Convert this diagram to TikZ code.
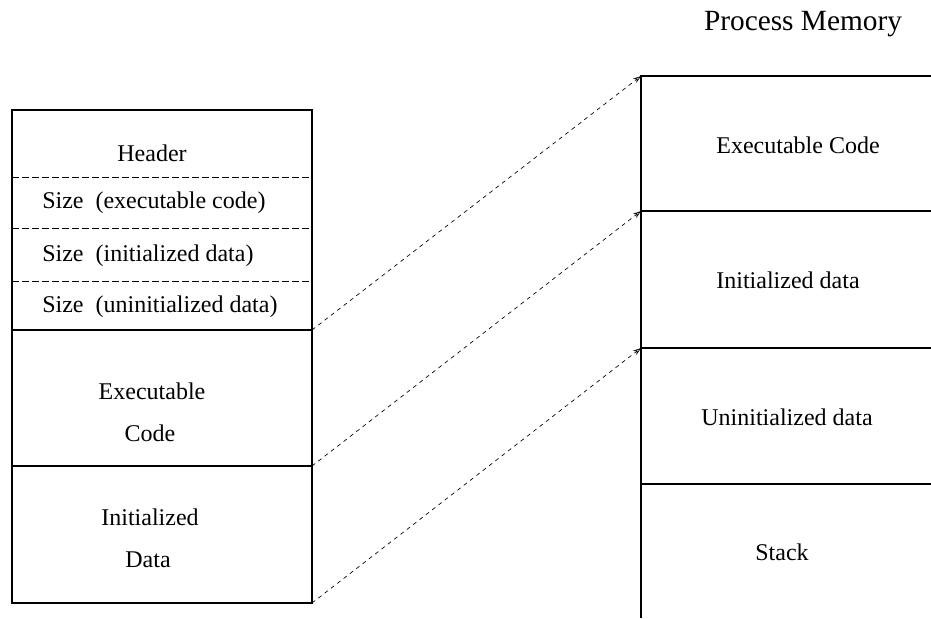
\documentclass[tikz,border=0pt]{standalone}
\usepackage{fontspec}
\setmainfont{Liberation Serif}
\usetikzlibrary{arrows.meta}

\begin{document}
\begin{tikzpicture}[x=0.75pt,y=-0.75pt,
		txt/.style={font=\fontsize{18}{21}\selectfont, inner sep=0pt},
		title/.style={font=\fontsize{22}{26}\selectfont, inner sep=0pt},
		frame/.style={line width=0.9pt},
		sep/.style={line width=0.6pt, dash pattern=on 5pt off 2.5pt},
		link/.style={-{Stealth[open,length=6pt,width=4pt]}, line width=0.5pt, dash pattern=on 3pt off 3pt}]
	\useasboundingbox (0,0) rectangle (931,618);

	% executable file
	\draw[frame] (12,110) rectangle (312,603);
	\draw[sep] (12,177) -- (312,177);
	\draw[sep] (12,228) -- (312,228);
	\draw[sep] (12,281) -- (312,281);
	\draw[frame] (12,330) -- (312,330);
	\draw[frame] (12,466) -- (312,466);

	\node[txt] (hdr) at(152,153) {Header};
	\node[txt,anchor=west] (szcode) at(42,203) {Size~~(executable code)};
	\node[txt,anchor=west] (szinit) at(42,256) {Size~~(initialized data)};
	\node[txt,anchor=west] (szuninit) at(42,307) {Size~~(uninitialized data)};
	\node[txt] (fcode1) at(152,391) {Executable};
	\node[txt] (fcode2) at(150,433) {Code};
	\node[txt] (fdata1) at(150,517) {Initialized};
	\node[txt] (fdata2) at(148,560) {Data};

	% process memory
	\node[title] (pm) at(803,24) {Process Memory};
	\draw[frame] (931,76) -- (641,76) -- (641,618);
	\draw[frame] (641,211) -- (931,211);
	\draw[frame] (641,348) -- (931,348);
	\draw[frame] (641,484) -- (931,484);

	\node[txt] (mcode) at(798,145) {Executable Code};
	\node[txt] (minit) at(788,280) {Initialized data};
	\node[txt] (muninit) at(787,417) {Uninitialized data};
	\node[txt] (mstack) at(782,552) {Stack};

	\coordinate (hdrend) at (312,330);
	\coordinate (codeend) at (312,466);
	\coordinate (dataend) at (312,603);
	\coordinate (codetop) at (641,76);
	\coordinate (inittop) at (641,211);
	\coordinate (uninittop) at (641,348);

	\draw[link] (hdrend) -- (codetop);
	\draw[link] (codeend) -- (inittop);
	\draw[link] (dataend) -- (uninittop);
\end{tikzpicture}
\end{document}
